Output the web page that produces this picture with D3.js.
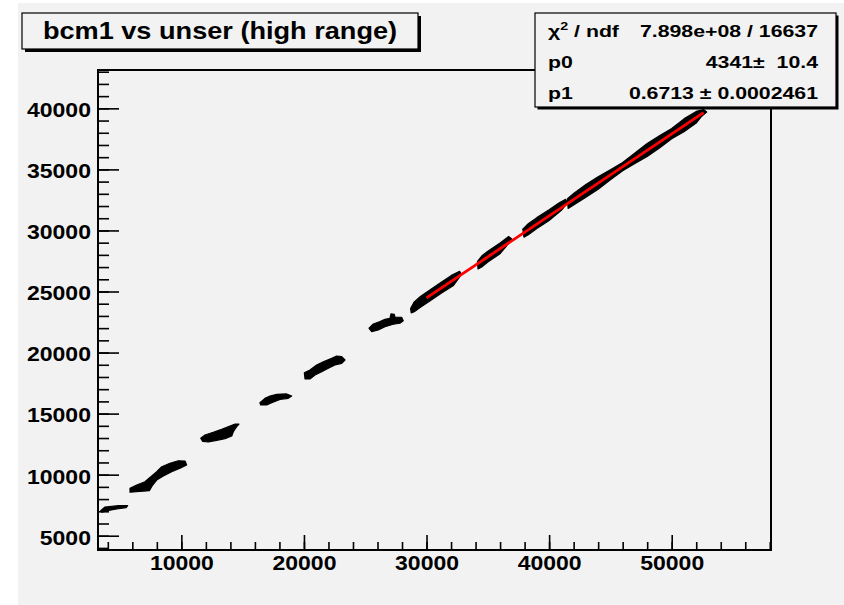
<!DOCTYPE html>
<html>
<head>
<meta charset="utf-8">
<script src="https://cdn.jsdelivr.net/npm/d3@7"></script>
<style>
  body { margin: 0; background: #ffffff; }
  svg text { font-family: "Liberation Sans", Arial, Helvetica, sans-serif; font-weight: bold; fill: #000; }
</style>
</head>
<body>
<svg id="chart" width="844" height="605"></svg>
<script>
// ---- data ---------------------------------------------------------------
const titleText = "bcm1 vs unser (high range)";

const xDomain = [3200, 58100];      // unser
const yDomain = [3830, 43140];      // bcm1
const xMajorTicks = [10000, 20000, 30000, 40000, 50000];
const yMajorTicks = [5000, 10000, 15000, 20000, 25000, 30000, 35000, 40000];
const xMinorTicks = d3.range(4000, 58001, 2000);
const yMinorTicks = d3.range(4000, 43001, 1000);

// outlines of the dense point clouds, one per beam-current step [unser, bcm1]
const step1 = [[3420,7050],[3770,7350],[4860,7460],[5620,7460],[5480,7290],[4730,7190],[3960,7050],[3530,6920]];
const step2 = [[5810,8880],[6360,9150],[7030,9420],[7440,9780],[7990,10240],[8400,10650],[9070,10930],[9750,11140],
               [10300,11120],[10430,10790],[9890,10520],[9210,10240],[8530,9890],[7990,9560],[7660,9150],[7390,8690],[5810,8560]];
const step3 = [[11580,12980],[11930,13250],[12600,13470],[13290,13720],[13970,13990],[14380,14150],[14700,14150],[14510,13930],
               [14240,13520],[14110,13170],[13560,12950],[12880,12810],[12200,12680],[11740,12730]];
const step4 = [[16410,15890],[16820,16250],[17230,16440],[17780,16580],[18590,16610],[19000,16440],[18720,16250],[18050,16170],
               [17370,15890],[16960,15710],[16470,15710]];
const step5 = [[20030,18350],[20490,18570],[21040,18980],[21580,19250],[22260,19530],[22670,19720],[23080,19660],[23350,19390],
               [23080,19120],[22530,18980],[21990,18710],[21450,18430],[20900,18160],[20490,17840],[20090,17840]];
const step6 = [[25310,21990],[25660,22340],[26200,22530],[26610,22720],[27020,22810],[27100,23160],[27370,23130],[27430,22890],
               [27970,22890],[28100,22610],[27830,22400],[27290,22320],[26610,22120],[26060,21850],[25530,21710]];
const step7 = [[28700,23600],[29000,24150],[29500,24600],[30300,25150],[31200,25750],[32000,26300],[32700,26650],
               [32850,26400],[32200,25500],[31200,24850],[30300,24250],[29500,23700],[29000,23350],[28750,23250]];
const step8 = [[34150,27450],[34500,27900],[35000,28300],[36000,28980],[36700,29500],
               [36950,29300],[36500,28700],[36000,28100],[35000,27420],[34500,27000],[34200,26850]];
const step9 = [[37850,30100],[38300,30550],[39000,31050],[40000,31700],[40800,32250],[41350,32550],
               [41500,32250],[41000,31650],[40000,30820],[39000,30150],[38300,29650],[37950,29450]];
const step10 = [[41500,32600],[42000,33036],[43000,33767],[44000,34398],[45000,34970],[46000,35571],[47000,36342],
                [48000,37123],[49000,37755],[50000,38356],[51000,39137],[52000,39749],[52600,39900],
                [52850,39700],[52400,39300],[52000,38799],[51000,38077],[50000,37506],[49000,36755],[48000,36063],
                [47000,35492],[46000,34891],[45000,34150],[44000,33378],[43000,32727],[42000,32086],[41550,31800]];
const pointClouds = [step1, step2, step3, step4, step5, step6, step7, step8, step9, step10];

// linear fit pol1: bcm1 = p0 + p1 * unser
const fitRange = [30000, 52600];
const chi2 = "7.898e+08";
const ndf = "16637";
const p0 = 4341, p0Err = 10.4;
const p1 = 0.6713, p1Err = 0.0002461;

// ---- layout -------------------------------------------------------------
const svg = d3.select("#chart");
const frame = { left: 98, right: 771, top: 70, bottom: 550 };
const padColor = "#f2f2f2";

const x = d3.scaleLinear().domain(xDomain).range([frame.left, frame.right]);
const y = d3.scaleLinear().domain(yDomain).range([frame.bottom, frame.top]);

// canvas pad
svg.append("rect").attr("x", 18).attr("y", 3).attr("width", 826).attr("height", 602).attr("fill", padColor);

// plot frame
svg.append("rect")
  .attr("x", frame.left).attr("y", frame.top)
  .attr("width", frame.right - frame.left).attr("height", frame.bottom - frame.top)
  .attr("fill", padColor).attr("stroke", "#000").attr("stroke-width", 2);

// point clouds
const outline = d3.line().x(d => x(d[0])).y(d => y(d[1])).curve(d3.curveLinearClosed);
svg.append("g").selectAll("path").data(pointClouds).join("path")
  .attr("d", outline)
  .attr("fill", "#000").attr("stroke", "#000").attr("stroke-width", 1.2).attr("stroke-linejoin", "round");

// fit line
const fitLine = d3.line().x(d => x(d)).y(d => y(p0 + p1 * d));
svg.append("path").datum(fitRange).attr("d", fitLine)
  .attr("fill", "none").attr("stroke", "#ff0000").attr("stroke-width", 2.8);

// axes (ticks point into the frame)
const axisStretch = 1.18;
const fmt = d3.format("d");

const yMinor = svg.append("g").attr("transform", `translate(${frame.left},0)`)
  .call(d3.axisLeft(y).tickValues(yMinorTicks).tickSizeInner(-11).tickSizeOuter(0).tickFormat(""));
const yMajor = svg.append("g").attr("transform", `translate(${frame.left},0)`)
  .call(d3.axisLeft(y).tickValues(yMajorTicks).tickSizeInner(-21).tickSizeOuter(0).tickPadding(6).tickFormat(fmt));
const xMinor = svg.append("g").attr("transform", `translate(0,${frame.bottom})`)
  .call(d3.axisBottom(x).tickValues(xMinorTicks).tickSizeInner(-8).tickSizeOuter(0).tickFormat(""));
const xMajor = svg.append("g").attr("transform", `translate(0,${frame.bottom})`)
  .call(d3.axisBottom(x).tickValues(xMajorTicks).tickSizeInner(-15).tickSizeOuter(0).tickPadding(6).tickFormat(fmt));

[yMinor, yMajor, xMinor, xMajor].forEach(g => {
  g.select(".domain").remove();
  g.selectAll("line").attr("stroke", "#000").attr("stroke-width", 1.6);
  g.selectAll("text").style("font-size", "19.5px")
    .style("font-family", '"Liberation Sans", Arial, sans-serif').style("font-weight", "bold");
});
yMajor.selectAll("text").attr("dy", "0.43em").attr("transform", `scale(${axisStretch},1)`);
xMajor.selectAll("text").attr("transform", `scale(${axisStretch},1)`);

// title box with shadow
function shadowBox(x0, y0, w, h, off) {
  svg.append("rect").attr("x", x0 + off).attr("y", y0 + off).attr("width", w).attr("height", h).attr("fill", "#000");
  svg.append("rect").attr("x", x0).attr("y", y0).attr("width", w).attr("height", h)
    .attr("fill", padColor).attr("stroke", "#000").attr("stroke-width", 1.2);
}
shadowBox(22, 13, 396, 36, 3);
svg.append("text")
  .attr("transform", `translate(220,39) scale(1.18,1)`)
  .attr("text-anchor", "middle").style("font-size", "23px")
  .text(titleText);

// statistics box
shadowBox(535, 13, 301, 94, 2.5);
const statStretch = 1.29;
const statSize = "16.5px";
const statRowsY = [37, 67.5, 99];
const statLeft = 548, statRight = 818;

// row 1: chi-square / ndf
const chiLabel = svg.append("text")
  .attr("transform", `translate(${statLeft},${statRowsY[0]}) scale(${statStretch},1)`)
  .style("font-size", statSize);
chiLabel.append("tspan").text("\u03c7");
chiLabel.append("tspan").attr("dy", -7).style("font-size", "11px").text("2");
chiLabel.append("tspan").attr("dy", 7).text(" / ndf");

const statLabels = ["p0", "p1"];
const statValues = [`${p0}\u00b1  ${p0Err}`, `${p1} \u00b1 ${p1Err}`];

svg.append("text")
  .attr("transform", `translate(${statRight},${statRowsY[0]}) scale(${statStretch},1)`)
  .attr("text-anchor", "end").style("font-size", statSize)
  .text(`${chi2} / ${ndf}`);

statLabels.forEach((lab, i) => {
  svg.append("text")
    .attr("transform", `translate(${statLeft},${statRowsY[i + 1]}) scale(${statStretch},1)`)
    .style("font-size", statSize).text(lab);
  svg.append("text")
    .attr("transform", `translate(${statRight},${statRowsY[i + 1]}) scale(${statStretch},1)`)
    .attr("text-anchor", "end").attr("xml:space", "preserve").style("white-space", "pre")
    .style("font-size", statSize).text(statValues[i]);
});
</script>
</body>
</html>
